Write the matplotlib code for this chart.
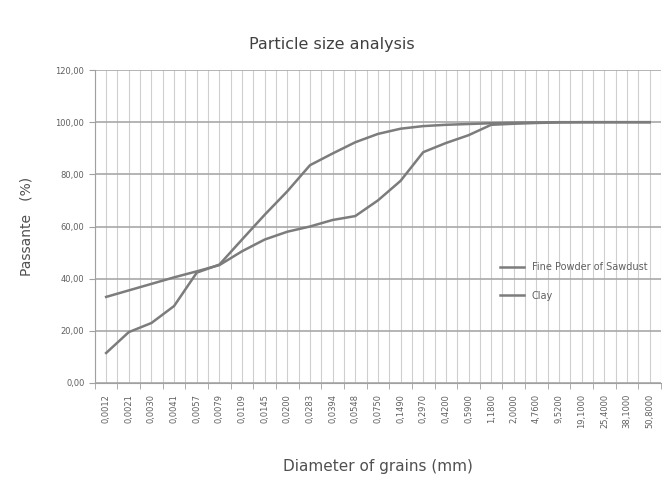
import numpy as np
import matplotlib.pyplot as plt

# Dados
diametros = ["0,0012", "0,0021", "0,0030", "0,0041", "0,0057", "0,0079", "0,0109",
             "0,0145", "0,0200", "0,0283", "0,0394", "0,0548", "0,0750", "0,1490",
             "0,2970", "0,4200", "0,5900", "1,1800", "2,0000", "4,7600", "9,5200",
             "19,1000", "25,4000", "38,1000", "50,8000"]
serragem = [11.5, 19.5, 23.0, 29.5, 42.3, 45.4, 55.0, 64.5, 73.5, 83.5, 88.0, 92.3,
            95.5, 97.5, 98.5, 99.0, 99.3, 99.6, 99.8, 99.9, 100.0, 100.0, 100.0, 100.0, 100.0]
argila = [33.0, 35.5, 38.0, 40.5, 42.8, 45.2, 50.5, 55.0, 58.0, 60.0, 62.5, 64.0,
          70.0, 77.5, 88.5, 92.0, 95.0, 99.0, 99.4, 99.7, 99.9, 100.0, 100.0, 100.0, 100.0]

x = np.arange(len(diametros))
cinza = '#7c7c7c'

fig = plt.figure(figsize=(6.63, 4.87), dpi=100)
ax = fig.add_axes([0.143, 0.2136, 0.854, 0.6426])

ax.plot(x, serragem, color=cinza, lw=1.8, label='Fine Powder of Sawdust')
ax.plot(x, argila, color=cinza, lw=1.8, label='Clay')

ax.set_xlim(-0.5, len(diametros) - 0.5)
ax.set_ylim(0, 120)
ax.set_yticks(np.arange(0, 121, 20))
ax.set_yticklabels(["{:.2f}".format(v).replace('.', ',') for v in range(0, 121, 20)],
                   fontsize=6, color='#606060')
ax.set_xticks(x)
ax.set_xticklabels(diametros, rotation=90, fontsize=6, color='#606060')
ax.set_xticks(np.arange(-0.5, len(diametros), 1), minor=True)

# Grade
ax.grid(axis='y', color='#a8a8a8', lw=1.2)
ax.grid(axis='x', which='both', color='#cfcfcf', lw=0.8)
ax.set_axisbelow(True)
for s in ['top', 'right']:
    ax.spines[s].set_visible(False)
ax.spines['left'].set_color('#a0a0a0')
ax.spines['bottom'].set_color('#a0a0a0')
ax.tick_params(axis='x', which='major', length=0, pad=8)
ax.tick_params(axis='x', which='minor', length=4, color='#a0a0a0')
ax.tick_params(axis='y', length=4, color='#a0a0a0')

ax.set_xlabel('Diameter of grains (mm)', fontsize=11, color='#505050', labelpad=22)
ax.set_ylabel('Passante   (%)', fontsize=10, color='#505050', labelpad=16)
fig.suptitle('Particle size analysis', fontsize=11.5, color='#404040', y=0.925)

ax.legend(loc='center left', bbox_to_anchor=(0.7, 0.325), frameon=False, fontsize=7,
          handlelength=2.5, labelspacing=1.9, labelcolor='#606060')

plt.savefig('out.png', dpi=100)
